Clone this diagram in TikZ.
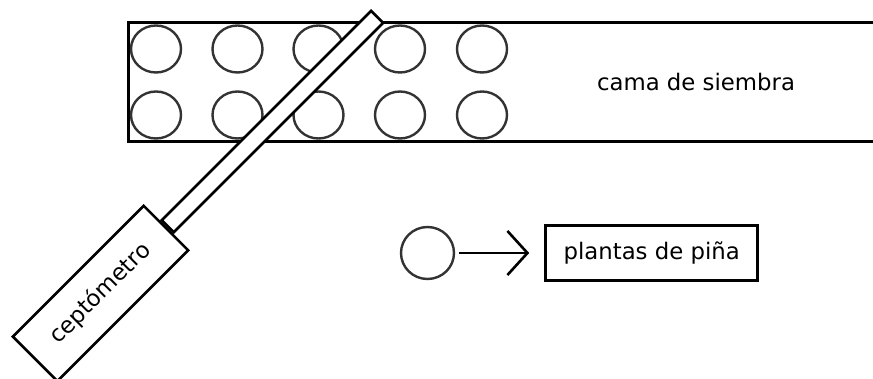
\documentclass[tikz,border=0pt]{standalone}
\usepackage{fontspec}
\setmainfont{DejaVu Sans}
\usetikzlibrary{arrows.meta, positioning, shapes.geometric}

\begin{document}
\begin{tikzpicture}[x=1pt,y=-1pt,
			font=\fontsize{22.8}{27}\selectfont,
			plant/.style = {draw=black!80,line width=2.4pt,ellipse,inner sep=0,minimum width=50pt,minimum height=47pt},
			bed/.style = {line width=3pt},
			tube/.style = {draw,fill=white,line width=2.6pt,inner sep=0,rotate=45},
			labelbox/.style = {draw,line width=3pt,minimum width=212pt,minimum height=55pt,inner sep=0}]
			\useasboundingbox (0,0) rectangle (873,379);
			% seed bed, open at the right
			\draw [bed] (874,23) -- (128.5,23) -- (128.5,142) -- (874,142);
			\node (p11) [plant] at (156,49) {};
			\node (p12) [plant] at (237.5,49) {};
			\node (p13) [plant] at (318.5,49) {};
			\node (p14) [plant] at (400,49) {};
			\node (p15) [plant] at (482,49) {};
			\node (p21) [plant] at (156,115) {};
			\node (p22) [plant] at (237.5,115) {};
			\node (p23) [plant] at (318.5,115) {};
			\node (p24) [plant] at (400,115) {};
			\node (p25) [plant] at (482,115) {};
			\node (bedtext) at (696,82) {cama de siembra};
			% ceptometer
			\node (stick) [tube,anchor=east,minimum width=296pt,minimum height=17pt] at (378,16) {};
			\node (meter) [tube,anchor=east,minimum width=185pt,minimum height=63pt] at (stick.west) {ceptómetro};
			% legend
			\node (plant) [plant,minimum width=53pt,minimum height=52pt] at (427.5,253) {};
			\node (legend) [labelbox,right=89pt of plant] {plantas de piña};
			\draw [-{Straight Barb[length=20pt,width=44pt]},line width=2.6pt,shorten <=4pt,shorten >=15pt] (plant) -- (legend);
		\end{tikzpicture}
\end{document}
